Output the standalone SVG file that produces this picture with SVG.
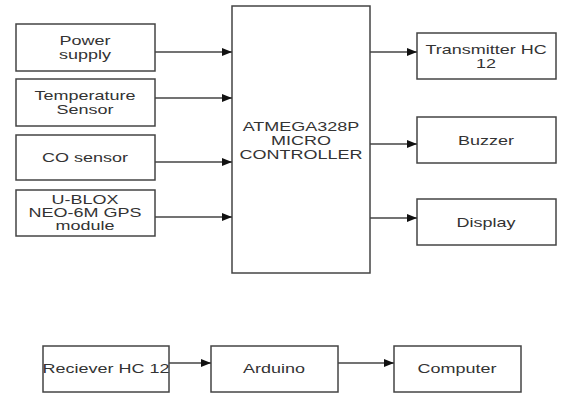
<svg xmlns="http://www.w3.org/2000/svg" width="573" height="396" viewBox="0 0 573 396">
<style>
rect{fill:#fff;stroke:#444;stroke-width:1.5}
text{font-family:"Liberation Sans",Arial,sans-serif;font-size:12px;fill:#333;text-anchor:middle;dominant-baseline:central}
.c line{stroke:#444;stroke-width:1.5;marker-end:url(#a)}
</style>
<defs><marker id="a" markerWidth="10" markerHeight="8" refX="10" refY="4" orient="auto" markerUnits="userSpaceOnUse"><path d="M0,0L10,4L0,8z" fill="#111"/></marker></defs>
<rect x="0" y="0" width="573" height="396" style="stroke:none"/>
<g id="power"><rect x="16" y="24" width="139" height="47"/><text transform="matrix(1.5 0 0 1 85 41)">Power</text><text transform="matrix(1.5 0 0 1 85 55)">supply</text></g>
<g id="temp"><rect x="16" y="79" width="139" height="47"/><text transform="matrix(1.5 0 0 1 85 96)">Temperature</text><text transform="matrix(1.5 0 0 1 85 110)">Sensor</text></g>
<g id="co"><rect x="16" y="135" width="139" height="45"/><text transform="matrix(1.5 0 0 1 85 158)">CO sensor</text></g>
<g id="gps"><rect x="16" y="190" width="139" height="46"/><text transform="matrix(1.5 0 0 1 85 200)">U-BLOX</text><text transform="matrix(1.5 0 0 1 85 213)">NEO-6M GPS</text><text transform="matrix(1.5 0 0 1 85 226)">module</text></g>
<g id="mcu"><rect x="232" y="6" width="138" height="267"/><text transform="matrix(1.5 0 0 1 301 127)">ATMEGA328P</text><text transform="matrix(1.5 0 0 1 301 141)">MICRO</text><text transform="matrix(1.5 0 0 1 301 155)">CONTROLLER</text></g>
<g id="tx"><rect x="417" y="33" width="139" height="46"/><text transform="matrix(1.5 0 0 1 486 50)">Transmitter HC</text><text transform="matrix(1.5 0 0 1 486 64)">12</text></g>
<g id="buzzer"><rect x="417" y="117" width="139" height="46"/><text transform="matrix(1.5 0 0 1 486 141)">Buzzer</text></g>
<g id="display"><rect x="417" y="199" width="139" height="46"/><text transform="matrix(1.5 0 0 1 486 223)">Display</text></g>
<g id="rx"><rect x="43" y="346" width="126" height="46"/><text transform="matrix(1.5 0 0 1 106 369)">Reciever HC 12</text></g>
<g id="arduino"><rect x="211" y="346" width="127" height="46"/><text transform="matrix(1.5 0 0 1 274 369)">Arduino</text></g>
<g id="computer"><rect x="394" y="346" width="127" height="46"/><text transform="matrix(1.5 0 0 1 457 369)">Computer</text></g>
<g class="c" id="connectors">
<line x1="155" y1="52" x2="232" y2="52"/>
<line x1="155" y1="98" x2="232" y2="98"/>
<line x1="155" y1="162" x2="232" y2="162"/>
<line x1="155" y1="217" x2="232" y2="217"/>
<line x1="370" y1="52" x2="417" y2="52"/>
<line x1="370" y1="144" x2="417" y2="144"/>
<line x1="370" y1="218" x2="417" y2="218"/>
<line x1="169" y1="363" x2="211" y2="363"/>
<line x1="338" y1="363" x2="394" y2="363"/>
</g>
</svg>
